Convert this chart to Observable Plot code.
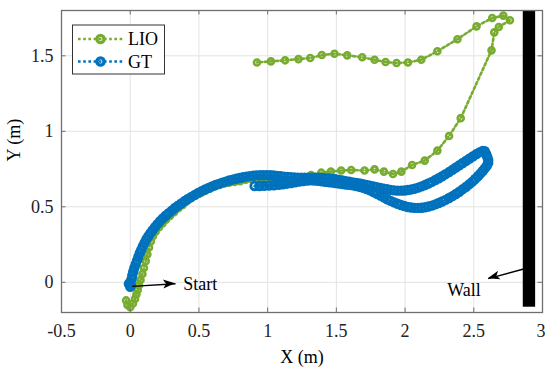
<!DOCTYPE html>
<html>
<head>
<meta charset="utf-8">
<script src="https://cdn.jsdelivr.net/npm/d3@7"></script>
<script src="https://cdn.jsdelivr.net/npm/@observablehq/plot@0.6"></script>
<style>
  html, body { margin: 0; padding: 0; background: white; }
  svg { display: block; }
</style>
</head>
<body>
<div id="chart"></div>
<script>
// ---------- data ----------
const xTicks = [-0.5, 0, 0.5, 1, 1.5, 2, 2.5, 3];
const xTickLabels = ["-0.5", "0", "0.5", "1", "1.5", "2", "2.5", "3"];
const yTicks = [0, 0.5, 1, 1.5];
const yTickLabels = ["0", "0.5", "1", "1.5"];
const xDomain = [-0.5, 3];
const yDomain = [-0.2, 1.8];

const seriesNames = ["LIO", "GT"];
const seriesColors = ["#77AC30", "#0072BD"];

// LIO trajectory (x, y) in metres
const lioX = [-0.03,-0.02,0.0,0.02,0.035,0.045,0.055,0.064,0.075,0.089,0.1,0.113,0.125,0.137,0.15,0.165,0.185,0.21,0.235,0.26,0.29,0.32,0.35,0.38,0.41,0.44,0.475,0.51,0.545,0.58,0.615,0.65,0.685,0.72,0.76,0.80,0.84,0.88,0.93,0.98,1.03,1.08,1.13,1.19,1.25,1.316,1.39,1.46,1.535,1.608,1.705,1.778,1.846,1.912,1.973,2.051,2.143,2.235,2.32,2.405,2.629,2.649,2.682,2.763,2.715,2.634,2.52,2.381,2.235,2.118,2.021,1.938,1.858,1.778,1.688,1.579,1.486,1.394,1.31,1.224,1.127,1.024,0.922];
const lioY = [-0.12,-0.15,-0.165,-0.14,-0.11,-0.08,-0.05,-0.02,0.015,0.055,0.095,0.14,0.185,0.23,0.27,0.305,0.335,0.365,0.39,0.415,0.44,0.465,0.49,0.51,0.535,0.555,0.575,0.59,0.605,0.62,0.635,0.645,0.655,0.66,0.665,0.67,0.68,0.685,0.68,0.68,0.675,0.67,0.665,0.67,0.69,0.71,0.726,0.733,0.74,0.744,0.74,0.748,0.733,0.717,0.733,0.777,0.806,0.872,0.969,1.087,1.536,1.655,1.691,1.735,1.766,1.75,1.695,1.61,1.53,1.474,1.456,1.452,1.459,1.474,1.49,1.503,1.514,1.505,1.485,1.478,1.47,1.463,1.456];

// Ground truth trajectory (x, y) in metres
const gtX = [0.0,-0.01,0.005,0.0,0.01,0.015,0.022,0.03,0.04,0.05,0.06,0.07,0.08,0.092,0.105,0.118,0.132,0.147,0.163,0.18,0.198,0.217,0.237,0.258,0.28,0.302,0.325,0.348,0.372,0.396,0.42,0.445,0.47,0.495,0.52,0.545,0.57,0.595,0.62,0.645,0.67,0.695,0.72,0.745,0.77,0.795,0.82,0.845,0.87,0.895,0.92,0.945,0.97,0.995,1.02,1.045,1.07,1.095,1.12,1.145,1.17,1.195,1.22,1.245,1.27,1.295,1.32,1.345,1.37,1.395,1.42,1.445,1.47,1.495,1.52,1.545,1.57,1.595,1.62,1.645,1.67,1.695,1.72,1.745,1.77,1.795,1.82,1.845,1.87,1.895,1.92,1.945,1.97,1.995,2.02,2.045,2.07,2.095,2.12,2.145,2.17,2.195,2.22,2.245,2.27,2.295,2.32,2.345,2.37,2.395,2.42,2.445,2.47,2.495,2.52,2.545,2.565,2.58,2.59,2.598,2.605,2.605,2.595,2.58,2.565,2.548,2.53,2.51,2.49,2.468,2.445,2.42,2.395,2.37,2.345,2.32,2.295,2.27,2.245,2.22,2.195,2.17,2.145,2.12,2.095,2.07,2.045,2.02,1.995,1.97,1.945,1.92,1.895,1.87,1.845,1.82,1.795,1.77,1.745,1.72,1.695,1.67,1.645,1.62,1.595,1.57,1.545,1.52,1.495,1.47,1.445,1.42,1.395,1.37,1.345,1.32,1.29,1.26,1.23,1.2,1.17,1.14,1.11,1.08,1.045,1.01,0.975,0.94,0.905];
const gtY = [-0.03,-0.01,-0.02,0.0,0.02,0.045,0.07,0.095,0.12,0.145,0.17,0.195,0.215,0.24,0.262,0.285,0.305,0.325,0.345,0.365,0.385,0.405,0.423,0.441,0.458,0.475,0.492,0.508,0.523,0.538,0.552,0.566,0.579,0.592,0.604,0.615,0.625,0.635,0.644,0.652,0.66,0.667,0.674,0.68,0.686,0.691,0.696,0.70,0.703,0.706,0.708,0.709,0.71,0.71,0.709,0.707,0.705,0.703,0.70,0.698,0.696,0.694,0.693,0.692,0.692,0.692,0.692,0.692,0.692,0.691,0.69,0.688,0.685,0.682,0.678,0.674,0.67,0.666,0.662,0.658,0.654,0.65,0.645,0.64,0.635,0.63,0.625,0.62,0.616,0.612,0.609,0.607,0.607,0.608,0.611,0.615,0.62,0.627,0.635,0.644,0.654,0.665,0.677,0.689,0.702,0.716,0.73,0.745,0.76,0.775,0.79,0.805,0.82,0.835,0.85,0.862,0.87,0.868,0.85,0.83,0.81,0.79,0.772,0.754,0.737,0.72,0.702,0.684,0.667,0.65,0.633,0.617,0.60,0.585,0.571,0.558,0.546,0.535,0.525,0.516,0.508,0.502,0.497,0.494,0.493,0.493,0.495,0.499,0.505,0.512,0.52,0.529,0.539,0.55,0.562,0.574,0.586,0.598,0.609,0.618,0.626,0.633,0.638,0.642,0.645,0.648,0.651,0.654,0.657,0.66,0.663,0.666,0.669,0.672,0.674,0.675,0.674,0.671,0.667,0.662,0.657,0.653,0.649,0.646,0.643,0.641,0.639,0.638,0.638];

// Wall rectangle extent
const wallX = [2.86, 2.95];
const wallY = [-0.165, 1.8];

// Annotations
const annLabels = ["Start", "Wall"];
const annTextX = [0.386, 2.307];
const annTextY = [-0.013, -0.052];
const arrowX1 = [0.015, 2.87];
const arrowY1 = [-0.027, 0.09];
const arrowX2 = [0.33, 2.605];
const arrowY2 = [-0.01, 0.024];

// ---------- build ----------
const lio = lioX.map((x, i) => ({x, y: lioY[i]}));
const gt = gtX.map((x, i) => ({x, y: gtY[i]}));
const ann = annLabels.map((t, i) => ({t, x: annTextX[i], y: annTextY[i], x1: arrowX1[i], y1: arrowY1[i], x2: arrowX2[i], y2: arrowY2[i]}));
const wall = [{x1: wallX[0], x2: wallX[1], y1: wallY[0], y2: wallY[1]}];

const W = 545, H = 367, mL = 61, mR = 3, mT = 10, mB = 55;
const tickPx = 4.5;
const tickLenY = tickPx * (yDomain[1] - yDomain[0]) / (H - mT - mB);
const tickLenX = tickPx * (xDomain[1] - xDomain[0]) / (W - mL - mR);
const font = "'Liberation Serif', 'Times New Roman', serif";
const lastTick = xTicks[xTicks.length - 1];
const innerXTicks = xTicks.slice(0, -1);
const axisColor = "#6f6f6f";

const chart = Plot.plot({
  width: W, height: H,
  marginLeft: mL, marginRight: mR, marginTop: mT, marginBottom: mB,
  style: {fontFamily: font, fontSize: "18px", background: "white", color: "#222"},
  x: {domain: xDomain},
  y: {domain: yDomain},
  marks: [
    Plot.gridX(xTicks, {stroke: "#e3e3e3", strokeOpacity: 1, strokeWidth: 1}),
    Plot.gridY(yTicks, {stroke: "#e3e3e3", strokeOpacity: 1, strokeWidth: 1}),
    Plot.axisX(innerXTicks, {tickSize: 0, tickPadding: 12, fontSize: 18, label: null,
      tickFormat: d => xTickLabels[xTicks.indexOf(d)]}),
    // last tick label sits at the right edge; keep it inside the picture
    Plot.text([lastTick], {x: d => d, frameAnchor: "bottom", dy: 12, dx: 3, lineAnchor: "top",
      textAnchor: "end", fontSize: 18, fill: "#222", text: d => xTickLabels[xTicks.indexOf(d)]}),
    Plot.axisY(yTicks, {tickSize: 0, tickPadding: 8, fontSize: 18, label: null,
      tickFormat: d => yTickLabels[yTicks.indexOf(d)]}),
    Plot.rect(wall, {x1: "x1", x2: "x2", y1: "y1", y2: "y2", fill: "black"}),
    Plot.line(lio, {x: "x", y: "y", stroke: seriesColors[0], strokeWidth: 2.6, strokeDasharray: "2.6,2.6"}),
    Plot.dot(lio, {x: "x", y: "y", r: 3, stroke: seriesColors[0], strokeWidth: 2.6, fill: "none"}),
    Plot.line(gt, {x: "x", y: "y", stroke: seriesColors[1], strokeWidth: 2.6, strokeDasharray: "2.6,2.6"}),
    Plot.dot(gt, {x: "x", y: "y", r: 3.8, stroke: seriesColors[1], strokeWidth: 2.8, fill: "none"}),
    Plot.link(ann, {x1: "x1", y1: "y1", x2: "x2", y2: "y2", stroke: "black", strokeWidth: 1.4}),
    Plot.text(ann, {x: "x", y: "y", text: "t", textAnchor: "start", lineAnchor: "middle", fontSize: 18, fill: "black"}),
    Plot.frame({stroke: axisColor, strokeWidth: 1.3}),
    // inward ticks on all four sides
    Plot.ruleX(xTicks, {y1: yDomain[0], y2: yDomain[0] + tickLenY, stroke: axisColor}),
    Plot.ruleX(xTicks, {y1: yDomain[1], y2: yDomain[1] - tickLenY, stroke: axisColor}),
    Plot.ruleY(yTicks, {x1: xDomain[0], x2: xDomain[0] + tickLenX, stroke: axisColor}),
    Plot.ruleY(yTicks, {x1: xDomain[1], x2: xDomain[1] - tickLenX, stroke: axisColor}),
    Plot.text(["X (m)"], {frameAnchor: "bottom", dy: 45, fontSize: 18, fill: "black", lineAnchor: "middle"}),
    Plot.text(["Y (m)"], {frameAnchor: "left", dx: -47, rotate: -90, fontSize: 18, fill: "black", lineAnchor: "middle"})
  ]
});

document.getElementById("chart").appendChild(chart);

const svg = d3.select(chart);
const sx = chart.scale("x"), sy = chart.scale("y");

// ---------- filled arrow heads (positions from Plot's scales) ----------
ann.forEach(a => {
  const px1 = sx.apply(a.x1), py1 = sy.apply(a.y1);
  const px2 = sx.apply(a.x2), py2 = sy.apply(a.y2);
  const ang = Math.atan2(py2 - py1, px2 - px1);
  const L = 12, hw = 4.5, back = 3;
  const ux = Math.cos(ang), uy = Math.sin(ang);
  const bx = px2 - ux * L, by = py2 - uy * L;
  const nx = -uy, ny = ux;
  const pts = [
    [px2, py2],
    [bx + nx * hw, by + ny * hw],
    [px2 - ux * (L - back), py2 - uy * (L - back)],
    [bx - nx * hw, by - ny * hw]
  ];
  svg.append("polygon").attr("points", pts.map(p => p.join(",")).join(" ")).attr("fill", "black");
});

// ---------- legend (inside the axes, top-left) ----------
const lg = svg.append("g").attr("font-family", font).attr("font-size", 18).attr("text-anchor", "start");
lg.append("rect").attr("x", 72.5).attr("y", 25).attr("width", 92).attr("height", 49)
  .attr("fill", "white").attr("stroke", "#333").attr("stroke-width", 1);
seriesNames.forEach((name, i) => {
  const cy = 39 + i * 22.5;
  lg.append("line").attr("x1", 78).attr("x2", 123).attr("y1", cy).attr("y2", cy)
    .attr("stroke", seriesColors[i]).attr("stroke-width", 2.6).attr("stroke-dasharray", "2.6,2.6");
  lg.append("circle").attr("cx", 100.5).attr("cy", cy).attr("r", 3.6)
    .attr("fill", "none").attr("stroke", seriesColors[i]).attr("stroke-width", 3.4);
  lg.append("text").attr("x", 128).attr("y", cy).attr("dy", "0.35em").attr("fill", "black")
    .attr("text-anchor", "start").text(name);
});
</script>
</body>
</html>
